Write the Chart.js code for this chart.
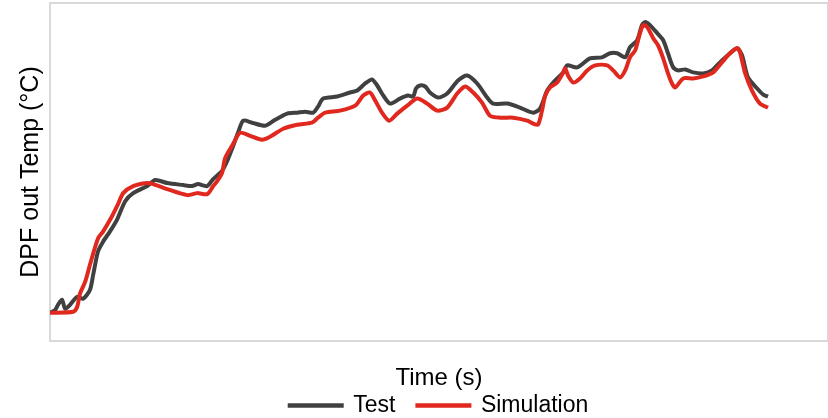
<!DOCTYPE html>
<html>
<head>
<meta charset="utf-8">
<title>DPF out Temp</title>
<script src="https://cdn.jsdelivr.net/npm/chart.js@4.4.1/dist/chart.umd.min.js"></script>
<style>
  html, body { margin: 0; padding: 0; background: #ffffff; }
  #wrap { width: 828px; height: 418px; }
</style>
</head>
<body>
<div id="wrap"><canvas id="myChart"></canvas></div>
<script>
'use strict';

/* Data (time in s, temperature in arbitrary deg C) */
const testTime = [0, 13, 20, 30, 38, 50, 68, 83, 100, 108, 120, 133, 150, 168, 188, 208, 243, 263, 293, 333,
    355, 370, 393, 408, 430, 443, 458, 470, 483, 505, 538, 563, 593, 618, 638, 658, 670, 683, 718, 750,
    768, 788, 805, 818, 830, 850, 875, 895, 908, 915, 925, 938, 950, 970, 993, 1020, 1043, 1068, 1093, 1108,
    1143, 1175, 1208, 1225, 1243, 1258, 1283, 1293, 1318, 1350, 1380, 1400, 1418, 1438, 1450, 1468, 1480, 1488, 1500, 1518,
    1533, 1545, 1558, 1570, 1588, 1608, 1633, 1655, 1675, 1700, 1718, 1730, 1745, 1768, 1783, 1795];
const testTemp = [128, 131, 136, 141, 132, 136, 144, 142, 151, 166, 189, 199, 209, 221, 239, 247, 254, 260, 257, 255,
    254, 256, 254, 261, 269, 279, 294, 307, 319, 317, 314, 320, 326, 327, 328, 327, 333, 341, 343, 347,
    349, 356, 360, 354, 346, 336, 341, 344, 343, 351, 354, 353, 347, 342, 346, 359, 364, 356, 342, 336,
    336, 332, 327, 331, 349, 357, 367, 374, 372, 381, 382, 386, 386, 382, 392, 399, 414, 417, 414, 406,
    399, 386, 372, 369, 370, 367, 366, 369, 377, 386, 391, 384, 362, 351, 345, 343];

const simTime = [0, 58, 68, 75, 88, 100, 120, 133, 155, 170, 183, 208, 243, 258, 293, 343, 368, 393, 408, 418,
    430, 438, 458, 475, 500, 530, 550, 583, 618, 655, 670, 688, 725, 763, 783, 800, 813, 830, 848, 868,
    893, 918, 943, 968, 993, 1018, 1038, 1058, 1080, 1100, 1125, 1158, 1193, 1208, 1220, 1230, 1238, 1250, 1268, 1283,
    1288, 1295, 1308, 1325, 1343, 1363, 1393, 1408, 1425, 1438, 1450, 1463, 1475, 1483, 1493, 1508, 1520, 1533, 1545, 1555,
    1563, 1583, 1608, 1633, 1658, 1680, 1700, 1718, 1725, 1738, 1755, 1775, 1795];
const simTemp = [128, 129, 134, 147, 159, 176, 202, 209, 224, 236, 247, 254, 257, 256, 251, 245, 247, 246, 254, 259,
    267, 282, 296, 307, 304, 300, 303, 311, 315, 317, 322, 327, 329, 334, 344, 347, 339, 327, 319, 326,
    334, 341, 336, 329, 332, 346, 353, 347, 337, 324, 322, 322, 319, 316, 315, 329, 344, 352, 357, 367,
    371, 364, 357, 361, 369, 374, 374, 369, 362, 369, 382, 389, 406, 414, 412, 401, 394, 381, 366, 356,
    352, 361, 361, 363, 367, 377, 386, 391, 387, 366, 349, 336, 332];

const seriesNames = ['Test', 'Simulation'];
const seriesColors = ['#404040', '#e0281e'];

function toPoints(xs, ys) {
    return xs.map((x, i) => ({ x: x, y: ys[i] }));
}

/* light grey frame round the plot area */
const plotFrame = {
    id: 'plotFrame',
    beforeDatasetsDraw(chart) {
        const a = chart.chartArea;
        const ctx = chart.ctx;
        ctx.save();
        ctx.strokeStyle = '#d9d9d9';
        ctx.lineWidth = 2;
        ctx.strokeRect(a.left, a.top, a.right - a.left, a.bottom - a.top);
        ctx.restore();
    }
};

Chart.defaults.font.family = '"Liberation Sans", Arial, sans-serif';
Chart.defaults.color = '#000000';

const config = {
    type: 'line',
    data: {
        datasets: [{
            label: seriesNames[0],
            data: toPoints(testTime, testTemp),
            borderColor: seriesColors[0],
            backgroundColor: seriesColors[0],
            borderWidth: 4,
            pointRadius: 0,
            tension: 0.25,
            order: 1
        }, {
            label: seriesNames[1],
            data: toPoints(simTime, simTemp),
            borderColor: seriesColors[1],
            backgroundColor: seriesColors[1],
            borderWidth: 4,
            pointRadius: 0,
            tension: 0.25,
            order: 0
        }]
    },
    options: {
        responsive: true,
        maintainAspectRatio: false,
        animation: false,
        devicePixelRatio: 1,
        layout: {
            padding: { top: 3, left: 14, right: 0, bottom: -9 }
        },
        scales: {
            x: {
                type: 'linear',
                min: 0,
                max: 1945,
                grid: { display: false, drawTicks: false },
                border: { display: false },
                ticks: { display: false },
                title: {
                    display: true,
                    text: 'Time (s)',
                    font: { size: 24 },
                    padding: { top: 22.6, bottom: -20.4 }
                }
            },
            y: {
                min: 100,
                max: 436,
                grid: { display: false, drawTicks: false },
                border: { display: false },
                ticks: { display: false },
                title: {
                    display: true,
                    text: 'DPF out Temp (°C)',
                    font: { size: 25 },
                    padding: { top: 2, bottom: 4 }
                }
            }
        },
        plugins: {
            legend: {
                position: 'bottom',
                fullSize: false,
                labels: {
                    boxWidth: 52,
                    boxHeight: 0.5,
                    padding: 22,
                    font: { size: 23 },
                    sort: (a, b) => a.datasetIndex - b.datasetIndex
                }
            },
            tooltip: { enabled: false }
        }
    },
    plugins: [plotFrame]
};

var myChart = new Chart(
    document.getElementById('myChart'),
    config
);
</script>
</body>
</html>
